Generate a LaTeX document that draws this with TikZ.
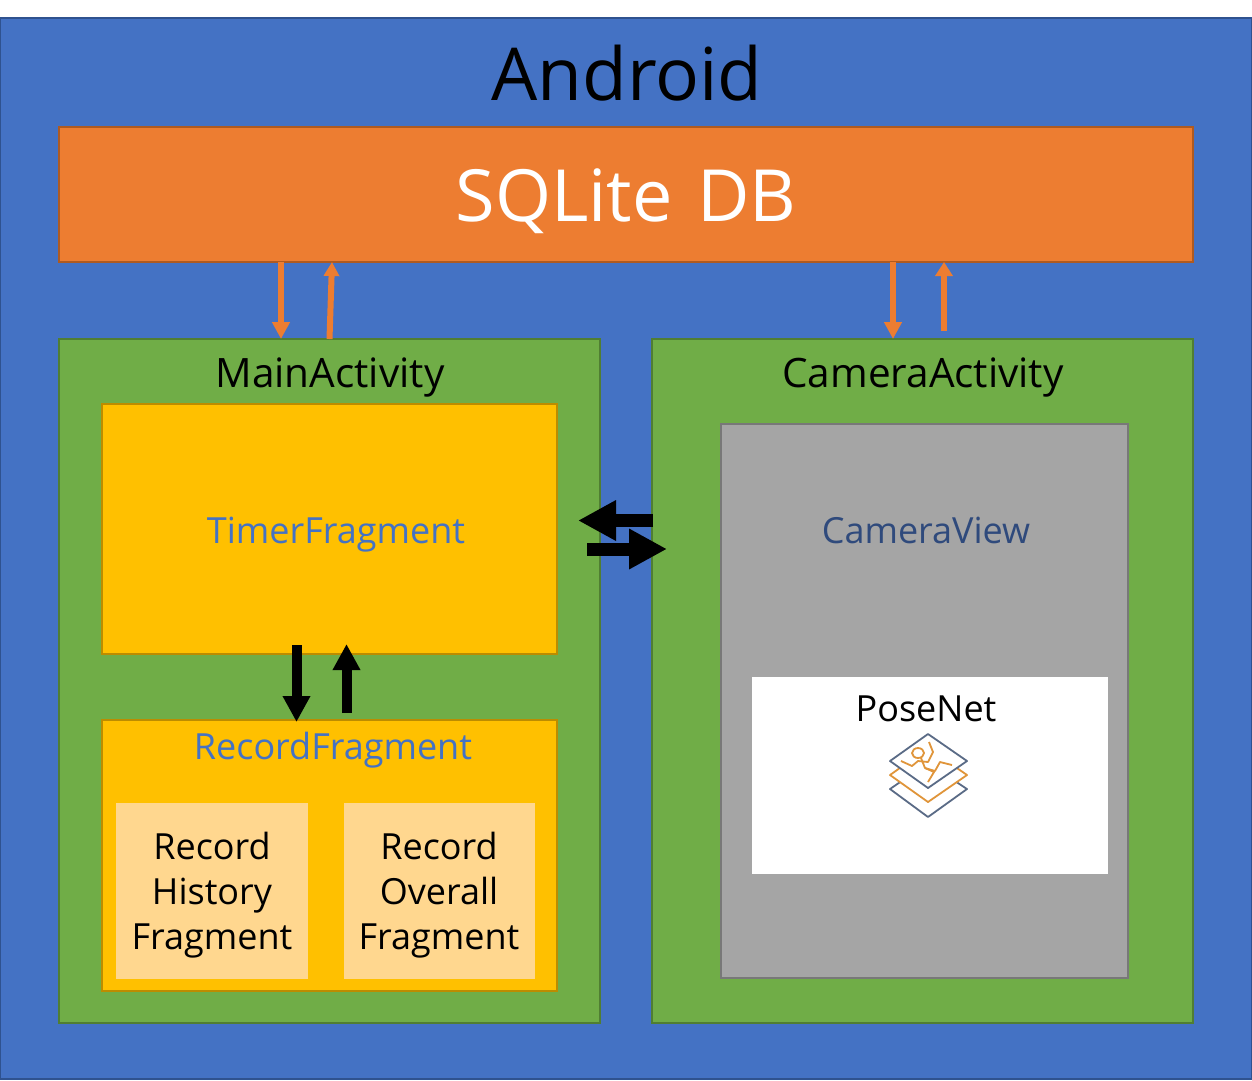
\documentclass[tikz,border=0pt]{standalone}
\usepackage{fontspec}
\setmainfont{Open Sans}
\usetikzlibrary{arrows.meta}
\definecolor{andblue}{HTML}{4472C4}
\definecolor{andblueD}{HTML}{2F528F}
\definecolor{dborange}{HTML}{ED7D31}
\definecolor{dborangeD}{HTML}{AE5A21}
\definecolor{actgreen}{HTML}{70AD47}
\definecolor{actgreenD}{HTML}{507E32}
\definecolor{fragyellow}{HTML}{FFC000}
\definecolor{fragyellowD}{HTML}{BC8C00}
\definecolor{subyellow}{HTML}{FFD78F}
\definecolor{viewgray}{HTML}{A5A5A5}
\definecolor{viewgrayD}{HTML}{787878}
\definecolor{viewtext}{HTML}{2F4A7C}
\definecolor{iconslate}{HTML}{5A6B86}
\definecolor{iconorange}{HTML}{E0953A}
\tikzstyle{box} = [rectangle, inner sep=0pt, outer sep=0pt, line width=2pt, text centered]
\tikzstyle{title} = [inner sep=0pt, anchor=base, font=\fontsize{36}{36}\selectfont]
\tikzstyle{bigtitle} = [title, font=\fontsize{73}{73}\selectfont]
\tikzstyle{acttitle} = [title, font=\fontsize{40.5}{40.5}\selectfont]
\tikzstyle{subfrag} = [box, fill=subyellow, minimum width=192pt, minimum height=176pt]
\tikzstyle{subtext} = [inner sep=0pt, align=center, font=\fontsize{36}{45}\selectfont]
\tikzstyle{arrowdb} = [line width=6.5pt, draw=dborange, -{Triangle[length=17pt,width=17pt]}]
\tikzstyle{arrowbig} = [line width=13pt, -{Triangle[length=38pt,width=38pt]}]
\tikzstyle{arrowmid} = [line width=10pt, -{Triangle[length=26pt,width=26pt]}]
\tikzstyle{icon} = [line width=1.8pt, line join=round]

\begin{document}
\begin{tikzpicture}[x=1pt, y=1pt]
\useasboundingbox (0,0) rectangle (1252,-1080);

% Android frame
\node (Android) [box, minimum width=1252pt, minimum height=1061pt, fill=andblue, draw=andblueD, xshift=626pt, yshift=-548.5pt] {};
\node (AndroidT) [bigtitle, xshift=627pt, yshift=-100pt] {Android};
\node (DB) [box, minimum width=1134pt, minimum height=135pt, fill=dborange, draw=dborangeD, xshift=626pt, yshift=-194.5pt] {};
\node (DBT) [bigtitle, text=white, xshift=626pt, yshift=-221pt, font=\fontsize{72}{72}\selectfont] {SQLite\hspace{6pt} DB};

% Main side
\node (Main) [box, minimum width=541pt, minimum height=684pt, fill=actgreen, draw=actgreenD, xshift=329.5pt, yshift=-681pt] {};
\node (MainT) [acttitle, xshift=330pt, yshift=-387pt] {MainActivity};
\node (Timer) [box, minimum width=455pt, minimum height=250pt, fill=fragyellow, draw=fragyellowD, xshift=329.5pt, yshift=-529pt] {};
\node (TimerT) [title, text=andblue, xshift=336pt, yshift=-543pt] {TimerFragment};
\node (Record) [box, minimum width=455pt, minimum height=271pt, fill=fragyellow, draw=fragyellowD, xshift=329.5pt, yshift=-855.5pt] {};
\node (RecordT) [title, text=andblue, xshift=333pt, yshift=-759pt] {RecordFragment};
\node (History) [subfrag, xshift=212pt, yshift=-891pt] {};
\node (HistoryT) [subtext, xshift=212pt, yshift=-895pt] {Record\\History\\Fragment};
\node (Overall) [subfrag, minimum width=191pt, xshift=439.5pt, yshift=-891pt] {};
\node (OverallT) [subtext, xshift=439pt, yshift=-895pt] {Record\\Overall\\Fragment};

% Camera side
\node (Camera) [box, minimum width=541pt, minimum height=684pt, fill=actgreen, draw=actgreenD, xshift=922.5pt, yshift=-681pt] {};
\node (CameraT) [acttitle, xshift=923pt, yshift=-387pt] {CameraActivity};
\node (View) [box, minimum width=407pt, minimum height=554pt, fill=viewgray, draw=viewgrayD, xshift=924.5pt, yshift=-701pt] {};
\node (ViewT) [title, text=viewtext, xshift=926pt, yshift=-543pt] {CameraView};
\node (Pose) [box, minimum width=356pt, minimum height=197pt, fill=white, xshift=930pt, yshift=-775.5pt] {};
\node (PoseT) [title, xshift=926pt, yshift=-721pt] {PoseNet};

% PoseNet icon
\draw [icon, draw=iconslate, fill=white] (890,-789) -- (928,-763) -- (967,-789) -- (928,-817) -- cycle;
\draw [icon, draw=iconorange, fill=white] (890,-775) -- (928,-748) -- (967,-775) -- (928,-802) -- cycle;
\draw [icon, draw=iconslate, fill=white] (890,-761) -- (928,-734) -- (967,-761) -- (928,-788) -- cycle;
\draw [icon, draw=iconorange] (918,-753) ellipse (6pt and 5pt);
\draw [icon, draw=iconorange] (921,-758) -- (925,-768) -- (934,-772) -- (928,-782);
\draw [icon, draw=iconorange] (901,-761) -- (912,-766) -- (918,-761) -- (928,-762) -- (933,-752) -- (929,-742);
\draw [icon, draw=iconorange] (925,-768) -- (935,-771) -- (940,-762) -- (952,-765);

% Connecting arrows
\draw [arrowdb] ([xshift=-345pt]DB.south) -- ([xshift=-48.5pt]Main.north);
\draw [arrowdb, line width=6pt, -{Triangle[length=14pt,width=15pt]}] (Main.north) -- ([xshift=-294pt]DB.south);
\draw [arrowdb] ([xshift=267pt]DB.south) -- ([xshift=-29.5pt]Camera.north);
\draw [arrowdb, line width=6pt, -{Triangle[length=14pt,width=17pt]}] ([xshift=21.5pt,yshift=8pt]Camera.north) -- ([xshift=318pt]DB.south);

\draw [arrowbig] ([xshift=1pt,yshift=160.5pt]Camera.west) -- ([xshift=-22pt,yshift=160.5pt]Main.east);
\draw [arrowbig] ([xshift=-13pt,yshift=132pt]Main.east) -- ([xshift=15pt,yshift=132pt]Camera.west);

\draw [arrowmid] ([xshift=-33pt,yshift=9pt]Timer.south) -- ([xshift=-33pt,yshift=-2pt]Record.north);
\draw [arrowmid] ([xshift=17pt,yshift=7pt]Record.north) -- ([xshift=17pt,yshift=10pt]Timer.south);

\end{tikzpicture}
\end{document}
